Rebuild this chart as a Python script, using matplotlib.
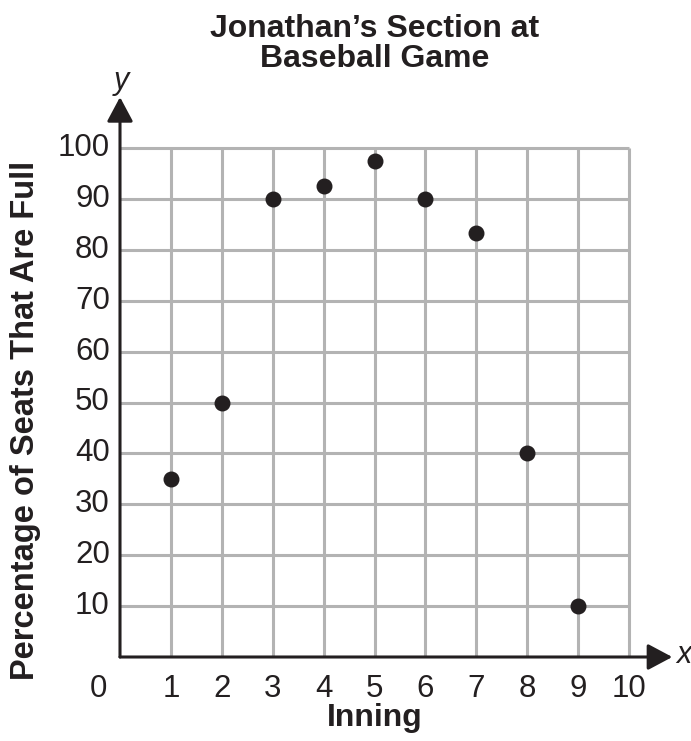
import matplotlib.pyplot as plt

plt.rcParams['font.family'] = ['Liberation Sans', 'DejaVu Sans']

## data
innings = [1, 2, 3, 4, 5, 6, 7, 8, 9]
pct_full = [35, 50, 90, 92.5, 97.5, 90, 83.3, 40, 10]
x_ticks = [1, 2, 3, 4, 5, 6, 7, 8, 9, 10]
y_ticks = [10, 20, 30, 40, 50, 60, 70, 80, 90, 100]

W, H = 691, 741
fig = plt.figure(figsize=(W / 100, H / 100), dpi=100)
# origin at pixel (120, 657); 1 unit x = 50.9 px, 10 units y = 50.9 px
xmax, ymax = 10.85, 110.0
ax = fig.add_axes([120 / W, (H - 657) / H, xmax * 50.9 / W, ymax * 5.09 / H])
ax.set_xlim(0, xmax)
ax.set_ylim(0, ymax)
ax.axis('off')

grid_col = '#b3b3b3'
ax.vlines(x_ticks, 0, 100, colors=grid_col, linewidth=2.2, zorder=1)
ax.hlines(y_ticks, 0, 10, colors=grid_col, linewidth=2.2, zorder=1)

## axes with arrows
arrow = dict(arrowstyle='-|>,head_length=1.5,head_width=0.8',
             color='#231f20', lw=2.2, shrinkA=0, shrinkB=0)
ax.annotate('', xy=(xmax, 0), xytext=(0, 0), arrowprops=arrow,
            annotation_clip=False, zorder=3)
ax.annotate('', xy=(0, ymax), xytext=(0, 0), arrowprops=arrow,
            annotation_clip=False, zorder=3)

ax.scatter(innings, pct_full, s=110, color='#231f20', zorder=4)

for t in x_ticks:
    ax.text(t, -6.2, str(t), ha='center', va='center', fontsize=22.5, color='#231f20')
ax.text(-0.42, -6.2, '0', ha='center', va='center', fontsize=22.5, color='#231f20')
for t in y_ticks:
    ax.text(-0.2, t, str(t), ha='right', va='center', fontsize=22.5, color='#231f20')

ax.text(xmax + 0.08, 0.3, 'x', ha='left', va='center', fontsize=22, style='italic', color='#231f20')
ax.text(0.02, 113.2, 'y', ha='center', va='center', fontsize=22, style='italic', color='#231f20')

fig.text(375 / W, 1 - 44 / H, "Jonathan\u2019s Section at\nBaseball Game", ha='center', va='center',
         fontsize=23, fontweight='bold', linespacing=1.0, color='#231f20')
fig.text(375 / W, 1 - 718 / H, 'Inning', ha='center', va='center',
         fontsize=23, fontweight='bold', color='#231f20')
fig.text(26 / W, 1 - 420 / H, 'Percentage of Seats That Are Full', ha='center', va='center',
         rotation=90, fontsize=23.5, fontweight='bold', color='#231f20')

fig.savefig('out.png', dpi=100)
